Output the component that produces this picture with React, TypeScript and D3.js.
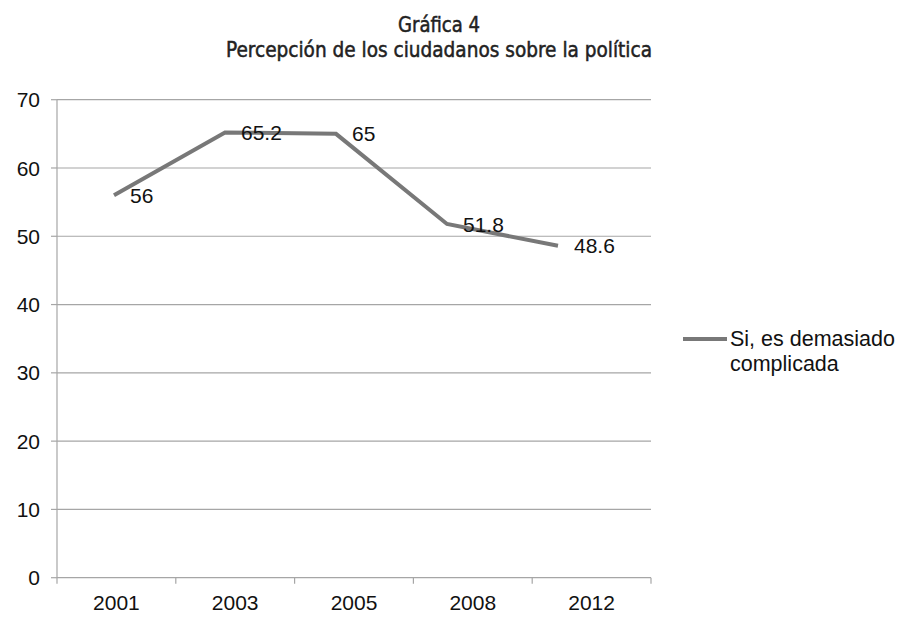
import * as d3 from "d3";

const years = ["2001", "2003", "2005", "2008", "2012"];
const values = [56, 65.2, 65, 51.8, 48.6];
const yTicks = [0, 10, 20, 30, 40, 50, 60, 70];
const seriesName = ["Si, es demasiado", "complicada"];
const titleLines = ["Gráfica 4", "Percepción de los ciudadanos sobre la política"];

const W = 900;
const H = 623;
const left = 57;
const right = 651;
const top = 99.7;
const bottom = 577.7;

const sans = "'Liberation Sans', Arial, sans-serif";
const narrow = "'DejaVu Sans Condensed', 'DejaVu Sans', sans-serif";

export default function App() {
  const y = d3.scaleLinear().domain([0, 70]).range([bottom, top]);
  // category axis
  const xBand = d3.scaleBand().domain(years).range([left, right]);
  // the line in the original sits on its own, narrower span
  const xLine = d3.scalePoint().domain(years).range([114, 558]);

  const line = d3
    .line<number>()
    .x((_, i) => xLine(years[i]) as number)
    .y((d) => y(d));

  const edges = years.map((yr) => xBand(yr) as number).concat([right]);

  return (
    <svg
      width={W}
      height={H}
      style={{ position: "absolute", left: 0, top: 0, background: "#fff" }}
    >
      {/* title */}
      <g
        fontFamily={narrow}
        fill="#222"
        stroke="#222"
        strokeWidth={0.5}
        textAnchor="middle"
        fontSize={22}
      >
        <text x={439} y={32} textLength={82} lengthAdjust="spacingAndGlyphs">
          {titleLines[0]}
        </text>
        <text x={439} y={57} textLength={426} lengthAdjust="spacingAndGlyphs">
          {titleLines[1]}
        </text>
      </g>

      {/* gridlines */}
      {yTicks.slice(1).map((t) => (
        <line key={t} x1={left} x2={right} y1={y(t)} y2={y(t)} stroke="#a6a6a6" strokeWidth={1.2} />
      ))}

      {/* axes */}
      <line x1={left} x2={left} y1={top} y2={bottom} stroke="#a6a6a6" strokeWidth={1.2} />
      <line x1={left} x2={right} y1={bottom} y2={bottom} stroke="#a6a6a6" strokeWidth={1.2} />
      {yTicks.map((t) => (
        <g key={t}>
          <line x1={51} x2={left} y1={y(t)} y2={y(t)} stroke="#a6a6a6" strokeWidth={1.2} />
          <text
            x={40}
            y={y(t)}
            dy="0.36em"
            textAnchor="end"
            fontFamily={sans}
            fontSize={21}
            fill="#111"
          >
            {t}
          </text>
        </g>
      ))}
      {edges.map((e, i) => (
        <line key={i} x1={e} x2={e} y1={bottom} y2={bottom + 6} stroke="#a6a6a6" strokeWidth={1.2} />
      ))}
      {years.map((yr) => (
        <text
          key={yr}
          x={(xBand(yr) as number) + xBand.bandwidth() / 2}
          y={610}
          textAnchor="middle"
          fontFamily={sans}
          fontSize={21}
          fill="#111"
        >
          {yr}
        </text>
      ))}

      {/* series */}
      <path d={line(values) || ""} fill="none" stroke="#787878" strokeWidth={4} strokeLinejoin="miter" />
      {values.map((v, i) => (
        <text
          key={i}
          x={(xLine(years[i]) as number) + 16}
          y={y(v)}
          dy="0.36em"
          fontFamily={sans}
          fontSize={21}
          fill="#111"
        >
          {v}
        </text>
      ))}

      {/* legend */}
      <line x1={683} x2={727} y1={339} y2={339} stroke="#787878" strokeWidth={4} />
      <g fontFamily={sans} fontSize={21.5} fill="#111">
        <text x={730} y={346}>{seriesName[0]}</text>
        <text x={730} y={371}>{seriesName[1]}</text>
      </g>
    </svg>
  );
}
